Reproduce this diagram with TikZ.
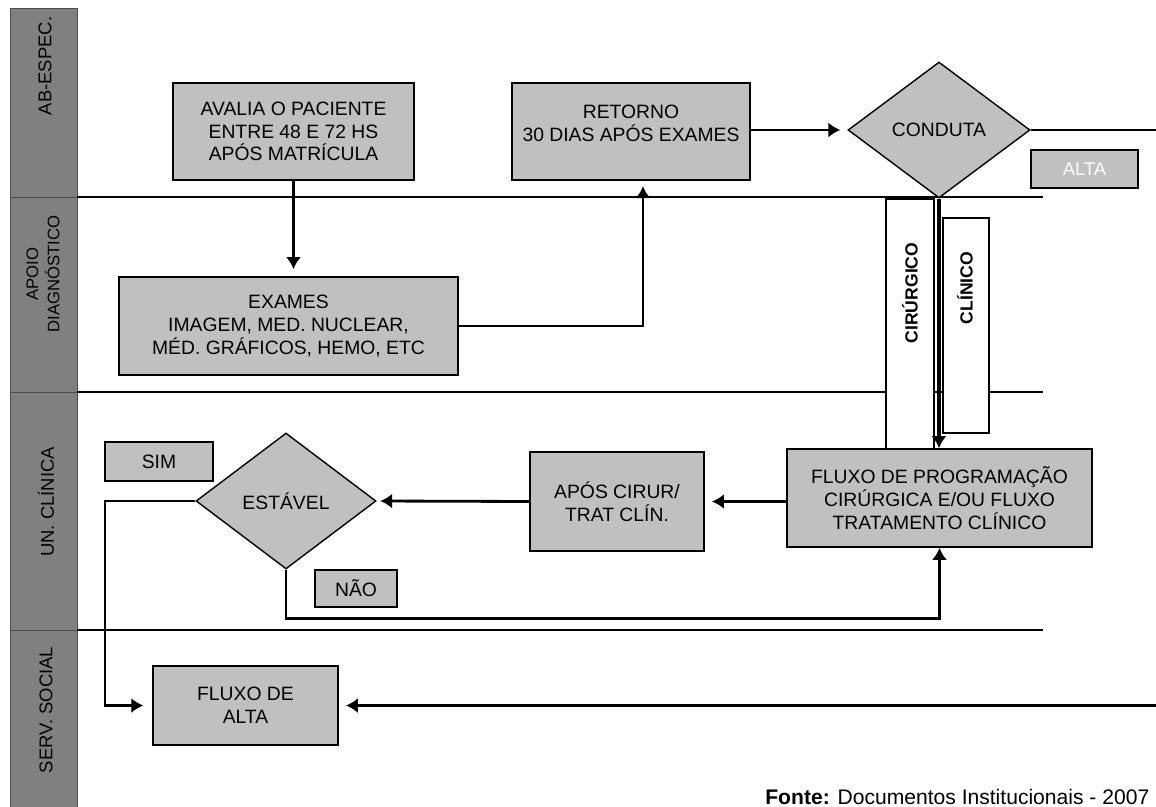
\documentclass[tikz,border=0pt]{standalone}
\usepackage{fontspec}
\setmainfont{Liberation Sans}
\usetikzlibrary{calc}
\usetikzlibrary{arrows.meta, shapes.geometric}

\definecolor{boxgray}{HTML}{C0C0C0}
\definecolor{lanegray}{HTML}{808080}

\begin{document}
\begin{tikzpicture}[
	x=0.02cm, y=-0.02cm,
	>={Latex[length=2.4mm, width=3mm]},
	flowbox/.style 2 args={draw, line width=1pt, fill=boxgray, align=center,
		inner sep=0pt, font=\fontsize{11}{13}\selectfont,
		minimum width=#1*0.02cm, minimum height=#2*0.02cm},
	decision/.style={diamond, draw, line width=0.8pt, fill=boxgray, inner sep=0pt,
		font=\fontsize{11}{13}\selectfont,
		minimum width=182*0.02cm, minimum height=136*0.02cm},
	sidebox/.style 2 args={draw, line width=1.2pt, fill=white, inner sep=0pt,
		minimum width=#1*0.02cm, minimum height=#2*0.02cm},
	sidelabel/.style={rotate=90, inner sep=0pt, font=\bfseries\fontsize{10}{12}\selectfont},
	lanelabel/.style={rotate=90, align=center, inner sep=0pt, font=\fontsize{10.5}{12}\selectfont},
	link/.style={line width=1.6pt},
	thinlink/.style={line width=1.1pt}]

	\useasboundingbox (0,0) rectangle (1156,807);

	% lane headers
	\foreach \ya/\yb in {8/197, 197/392, 392/630, 630/807}
		\filldraw[fill=lanegray, draw=black!70, line width=0.5pt] (10,\ya) rectangle (77,\yb);
	\foreach \yy in {197, 392, 630}
		\draw[link] (77,\yy) -- (1043,\yy);

	\node[lanelabel] (l-ab) at (45,66) {AB-ESPEC.};
	\node[lanelabel, font=\fontsize{9.5}{12}\selectfont] (l-apoio) at (43,274) {APOIO\\DIAGNÓSTICO};
	\node[lanelabel] (l-un) at (46,502) {UN. CLÍNICA};
	\node[lanelabel] (l-serv) at (46,710) {SERV. SOCIAL};

	% AB-ESPEC.
	\node[flowbox={241}{97}] (avalia) at (293.5,131.5) {AVALIA O PACIENTE\\ENTRE 48 E 72 HS\\APÓS MATRÍCULA};
	\node[flowbox={238}{97}] (retorno) at (631,131.5) {RETORNO\\30 DIAS APÓS EXAMES\\[-4pt]~};
	\node[decision] (conduta) at (939,130) {CONDUTA};
	\node[flowbox={107}{38}, text=white, font=\fontsize{10.5}{12}\selectfont] (alta) at (1084.5,169) {ALTA};

	% APOIO DIAGNOSTICO
	\node[flowbox={339}{98}] (exames) at (288.5,326) {EXAMES\\IMAGEM, MED. NUCLEAR,\\MÉD. GRÁFICOS, HEMO, ETC};
	\node[sidebox={48}{253}] (cirbox) at (910,325.5) {};
	\node[sidelabel] (cirtxt) at (910,293) {CIRÚRGICO};
	\node[sidebox={46}{215}] (clibox) at (966,325.5) {};
	\node[sidelabel] (clitxt) at (965,288) {CLÍNICO};

	% UN. CLINICA
	\node[flowbox={305}{98}] (fluxo) at (939.5,498) {FLUXO DE PROGRAMAÇÃO\\CIRÚRGICA E/OU FLUXO\\TRATAMENTO CLÍNICO};
	\node[flowbox={174}{99}] (apos) at (617,501.5) {APÓS CIRUR/\\TRAT CLÍN.};
	\node[decision, minimum width=180*0.02cm] (estavel) at (286,501) {ESTÁVEL};
	\node[flowbox={108}{39}] (sim) at (159,461.5) {SIM};
	\node[flowbox={82}{37}] (nao) at (356,588.5) {NÃO};

	% SERV. SOCIAL
	\node[flowbox={185}{79}] (fluxoalta) at (245.5,705.5) {FLUXO DE\\ALTA};

	\node[anchor=base west, inner sep=0pt, font=\fontsize{12}{14}\selectfont] (fonte) at (765,804)
		{\textbf{Fonte:} Documentos Institucionais - 2007};

	% connectors
	\coordinate (altaend) at (1156,130);
	\coordinate (simturn) at (105,705.5);
	\coordinate (servend) at (1156,705.5);

	\draw[link, ->, shorten >=4pt] (avalia.south) -- (avalia.south |- exames.north);
	\draw[link, ->, shorten >=3pt] (exames.east) -| ($(retorno.south)+(12,0)$);
	\draw[thinlink, ->, shorten >=4pt] (retorno.east |- conduta.west) -- (conduta.west);
	\draw[thinlink] (conduta.east) -- (altaend);
	\draw[link, line width=2.2pt, ->] (conduta.south) -- (conduta.south |- fluxo.north);
	\draw[link, ->, shorten >=4pt] (fluxo.west |- apos.east) -- (apos.east);
	\draw[link, ->, shorten >=2pt] (apos.west) -- (estavel.east);
	\draw[link, ->, shorten >=5pt] (estavel.west) -| (simturn) -- (fluxoalta.west);
	\draw[link, ->] (estavel.south) -- ++(0,49) -| (fluxo.south);
	\draw[link, ->, shorten >=4pt] (servend) -- (fluxoalta.east);

\end{tikzpicture}
\end{document}
